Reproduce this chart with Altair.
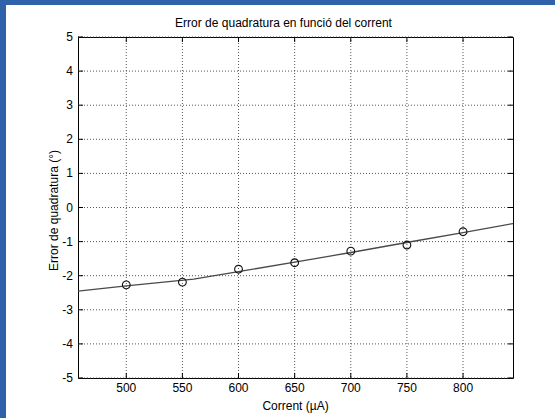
import altair as alt
import pandas as pd

# Measured quadrature error against drive current
current = [500, 550, 600, 650, 700, 750, 800]
quad_error = [-2.27, -2.19, -1.81, -1.62, -1.28, -1.10, -0.71]

# Fitted curve across the full axis range
fit_current = [457, 500, 560, 600, 658, 700, 756, 800, 844.5]
fit_error = [-2.45, -2.30, -2.10, -1.88, -1.56, -1.32, -0.99, -0.735, -0.47]

# Axis ticks
x_ticks = [500, 550, 600, 650, 700, 750, 800]
y_ticks = [-5, -4, -3, -2, -1, 0, 1, 2, 3, 4, 5]

TITLE = "Error de quadratura en funció del corrent"
X_TITLE = "Corrent (µA)"
Y_TITLE = "Error de quadratura (°)"

W, H = 435, 341
FONT = "Liberation Sans"
BLUE = "#2f62aa"
GRID = "#444"

meas = pd.DataFrame({"current": current, "error": quad_error})
fit = pd.DataFrame({"current": fit_current, "error": fit_error})
xt = pd.DataFrame({"t": x_ticks, "lab": [str(v) for v in x_ticks]})
yt = pd.DataFrame({"t": y_ticks, "lab": [str(v) for v in y_ticks]})
one = pd.DataFrame({"k": [0]})

xs = alt.Scale(domain=[457, 844.5], nice=False, zero=False)
ys = alt.Scale(domain=[-5, 5], nice=False, zero=False)


def X(field):
    return alt.X(field, type="quantitative", scale=xs, axis=None)


def Y(field):
    return alt.Y(field, type="quantitative", scale=ys, axis=None)


# Dotted grid
x_grid = alt.Chart(xt).mark_rule(color=GRID, strokeDash=[1, 2], opacity=0.9).encode(
    x=X("t"), y=alt.value(0), y2=alt.value(H))
y_grid = alt.Chart(yt).mark_rule(color=GRID, strokeDash=[1, 2], opacity=0.9).encode(
    y=Y("t"), x=alt.value(0), x2=alt.value(W))

fit_line = alt.Chart(fit).mark_line(color="#4a4a4a", strokeWidth=1.3).encode(
    x=X("current"), y=Y("error"))

points = alt.Chart(meas).mark_point(shape="circle", size=60, filled=False,
                                    color="#111", strokeWidth=1.1, opacity=1).encode(
    x=X("current"), y=Y("error"))

# Inward tick marks on all four sides of the box
tick_len = 5
xb = alt.Chart(xt).mark_rule(color="#000").encode(
    x=X("t"), y=alt.value(H), y2=alt.value(H - tick_len))
xtp = alt.Chart(xt).mark_rule(color="#000").encode(
    x=X("t"), y=alt.value(0), y2=alt.value(tick_len))
yl = alt.Chart(yt).mark_rule(color="#000").encode(
    y=Y("t"), x=alt.value(0), x2=alt.value(tick_len))
yr = alt.Chart(yt).mark_rule(color="#000").encode(
    y=Y("t"), x=alt.value(W), x2=alt.value(W - tick_len))

# Tick labels
x_labels = alt.Chart(xt).mark_text(font=FONT, fontSize=12, color="#000",
                                   align="center", baseline="top").encode(
    x=X("t"), y=alt.value(H + 5), text="lab:N")
y_labels = alt.Chart(yt).mark_text(font=FONT, fontSize=12, color="#000",
                                   align="right", baseline="middle").encode(
    y=Y("t"), x=alt.value(-5), text="lab:N")

# Titles
title = alt.Chart(one).mark_text(text=TITLE, font=FONT, fontSize=12, color="#000",
                                 align="center", baseline="alphabetic").encode(
    x=alt.value(W / 2 - 12), y=alt.value(-10))
x_title = alt.Chart(one).mark_text(text=X_TITLE, font=FONT, fontSize=12, color="#000",
                                   align="center", baseline="alphabetic").encode(
    x=alt.value(W / 2), y=alt.value(H + 32))
y_title = alt.Chart(one).mark_text(text=Y_TITLE, font=FONT, fontSize=12, color="#000",
                                   align="center", baseline="alphabetic", angle=270).encode(
    x=alt.value(-20), y=alt.value(H / 2 + 3))

# Window frame strips along the left and top edges
left_strip = alt.Chart(one).mark_rect(color=BLUE).encode(
    x=alt.value(-78), x2=alt.value(-72), y=alt.value(-37), y2=alt.value(H + 40))
top_strip = alt.Chart(one).mark_rect(color=BLUE).encode(
    x=alt.value(-78), x2=alt.value(W + 42), y=alt.value(-37), y2=alt.value(-32))

chart = alt.layer(
    x_grid, y_grid, fit_line, points, xb, xtp, yl, yr,
    x_labels, y_labels, title, x_title, y_title, left_strip, top_strip
).properties(
    width=W, height=H,
    padding={"left": 78, "top": 37, "right": 42, "bottom": 40},
    autosize=alt.AutoSizeParams(type="none"),
    background="white",
).configure_view(stroke="#000", strokeWidth=1)

chart.save("out.html", embed_options={"renderer": "svg", "actions": False})
